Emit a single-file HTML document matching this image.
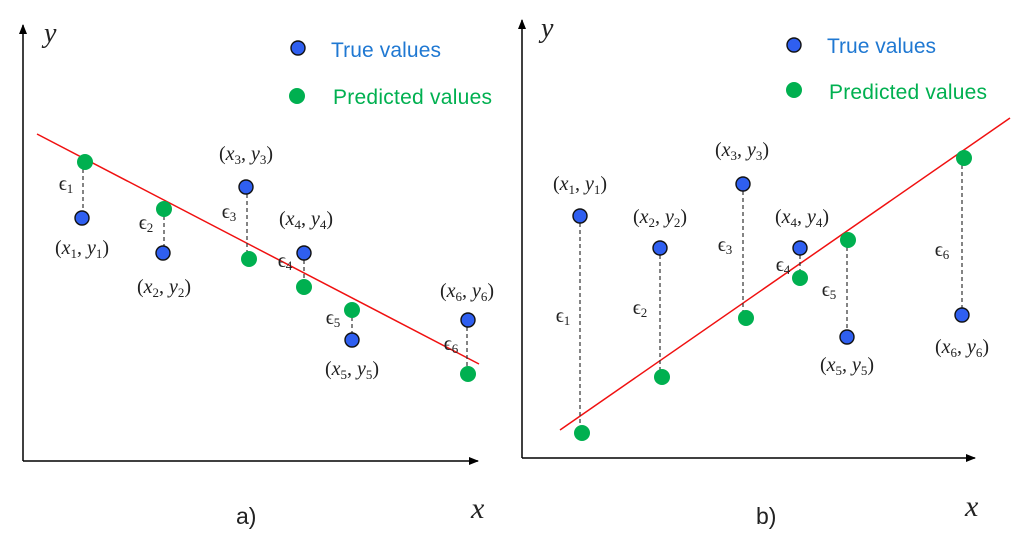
<!DOCTYPE html>
<html><head><meta charset="utf-8"><style>html,body{margin:0;padding:0;background:#fff}svg{display:block}</style></head>
<body>
<svg width="1023" height="544" viewBox="0 0 1023 544" xmlns="http://www.w3.org/2000/svg">
<defs>
<marker id="ar" markerWidth="10" markerHeight="8" refX="9" refY="4" orient="auto" markerUnits="userSpaceOnUse"><path d="M0,0 L10,4 L0,8 z" fill="#000"/></marker>
</defs>
<g font-family="Liberation Serif, serif" fill="#222">
<!-- Panel a -->
<line x1="23" y1="461" x2="23" y2="25" stroke="#000" stroke-width="1.5" marker-end="url(#ar)"/>
<line x1="23" y1="461" x2="478" y2="461" stroke="#000" stroke-width="1.5" marker-end="url(#ar)"/>
<text x="44" y="42" font-size="28" font-style="italic">y</text>
<text x="471" y="518" font-size="30" font-style="italic">x</text>
<text x="236" y="524" font-size="23" font-family="Liberation Sans, sans-serif">a)</text>
<line x1="37" y1="134" x2="479" y2="364" stroke="#f01010" stroke-width="1.5"/>
<g stroke="#333" stroke-width="1.2" stroke-dasharray="4,3">
<line x1="83" y1="162" x2="83" y2="218"/><line x1="164" y1="209" x2="164" y2="253"/>
<line x1="247" y1="187" x2="247" y2="259"/><line x1="304" y1="253" x2="304" y2="287"/>
<line x1="352" y1="310" x2="352" y2="340"/><line x1="467" y1="320" x2="467" y2="374"/>
</g>
<g fill="#2f5ff0" stroke="#111" stroke-width="1.4">
<circle cx="82" cy="218" r="7"/><circle cx="163" cy="253" r="7"/><circle cx="246" cy="187" r="7"/>
<circle cx="304" cy="253" r="7"/><circle cx="352" cy="340" r="7"/><circle cx="468" cy="320" r="7"/>
<circle cx="298" cy="48" r="7"/>
</g>
<g fill="#00b050">
<circle cx="85" cy="162" r="8"/><circle cx="164" cy="209" r="8"/><circle cx="249" cy="259" r="8"/>
<circle cx="304" cy="287" r="8"/><circle cx="352" cy="310" r="8"/><circle cx="468" cy="374" r="8"/>
<circle cx="297" cy="96" r="8"/>
</g>
<g font-size="20" text-anchor="middle">
<text x="82" y="254">(<tspan font-style="italic">x</tspan><tspan font-size="13" dy="4">1</tspan><tspan dy="-4">, </tspan><tspan font-style="italic">y</tspan><tspan font-size="13" dy="4">1</tspan><tspan dy="-4">)</tspan></text>
<text x="164" y="293">(<tspan font-style="italic">x</tspan><tspan font-size="13" dy="4">2</tspan><tspan dy="-4">, </tspan><tspan font-style="italic">y</tspan><tspan font-size="13" dy="4">2</tspan><tspan dy="-4">)</tspan></text>
<text x="246" y="160">(<tspan font-style="italic">x</tspan><tspan font-size="13" dy="4">3</tspan><tspan dy="-4">, </tspan><tspan font-style="italic">y</tspan><tspan font-size="13" dy="4">3</tspan><tspan dy="-4">)</tspan></text>
<text x="306" y="225">(<tspan font-style="italic">x</tspan><tspan font-size="13" dy="4">4</tspan><tspan dy="-4">, </tspan><tspan font-style="italic">y</tspan><tspan font-size="13" dy="4">4</tspan><tspan dy="-4">)</tspan></text>
<text x="352" y="375">(<tspan font-style="italic">x</tspan><tspan font-size="13" dy="4">5</tspan><tspan dy="-4">, </tspan><tspan font-style="italic">y</tspan><tspan font-size="13" dy="4">5</tspan><tspan dy="-4">)</tspan></text>
<text x="467" y="297">(<tspan font-style="italic">x</tspan><tspan font-size="13" dy="4">6</tspan><tspan dy="-4">, </tspan><tspan font-style="italic">y</tspan><tspan font-size="13" dy="4">6</tspan><tspan dy="-4">)</tspan></text>
<text x="66" y="190">ϵ<tspan font-size="13" dy="3">1</tspan></text>
<text x="146" y="229">ϵ<tspan font-size="13" dy="3">2</tspan></text>
<text x="229" y="218">ϵ<tspan font-size="13" dy="3">3</tspan></text>
<text x="285" y="267">ϵ<tspan font-size="13" dy="3">4</tspan></text>
<text x="333" y="324">ϵ<tspan font-size="13" dy="3">5</tspan></text>
<text x="451" y="350">ϵ<tspan font-size="13" dy="3">6</tspan></text>
</g>
<g font-family="Liberation Sans, sans-serif" font-size="21">
<text x="331" y="57" fill="#1f78d2" textLength="110">True values</text>
<text x="333" y="104" fill="#00b050" textLength="159">Predicted values</text>
</g>

<!-- Panel b -->
<line x1="522" y1="458" x2="522" y2="20" stroke="#000" stroke-width="1.5" marker-end="url(#ar)"/>
<line x1="522" y1="458" x2="975" y2="458" stroke="#000" stroke-width="1.5" marker-end="url(#ar)"/>
<text x="541" y="37" font-size="28" font-style="italic">y</text>
<text x="965" y="516" font-size="30" font-style="italic">x</text>
<text x="756" y="524" font-size="23" font-family="Liberation Sans, sans-serif">b)</text>
<line x1="560" y1="430" x2="1010" y2="118" stroke="#f01010" stroke-width="1.5"/>
<g stroke="#333" stroke-width="1.2" stroke-dasharray="4,3">
<line x1="580" y1="216" x2="580" y2="433"/><line x1="660" y1="248" x2="660" y2="377"/>
<line x1="743" y1="184" x2="743" y2="318"/><line x1="800" y1="248" x2="800" y2="278"/>
<line x1="847" y1="240" x2="847" y2="337"/><line x1="962" y1="158" x2="962" y2="315"/>
</g>
<g fill="#2f5ff0" stroke="#111" stroke-width="1.4">
<circle cx="580" cy="216" r="7"/><circle cx="660" cy="248" r="7"/><circle cx="743" cy="184" r="7"/>
<circle cx="800" cy="248" r="7"/><circle cx="847" cy="337" r="7"/><circle cx="962" cy="315" r="7"/>
<circle cx="794" cy="45" r="7"/>
</g>
<g fill="#00b050">
<circle cx="582" cy="433" r="8"/><circle cx="662" cy="377" r="8"/><circle cx="746" cy="318" r="8"/>
<circle cx="800" cy="278" r="8"/><circle cx="848" cy="240" r="8"/><circle cx="964" cy="158" r="8"/>
<circle cx="794" cy="90" r="8"/>
</g>
<g font-size="20" text-anchor="middle">
<text x="580" y="190">(<tspan font-style="italic">x</tspan><tspan font-size="13" dy="4">1</tspan><tspan dy="-4">, </tspan><tspan font-style="italic">y</tspan><tspan font-size="13" dy="4">1</tspan><tspan dy="-4">)</tspan></text>
<text x="660" y="223">(<tspan font-style="italic">x</tspan><tspan font-size="13" dy="4">2</tspan><tspan dy="-4">, </tspan><tspan font-style="italic">y</tspan><tspan font-size="13" dy="4">2</tspan><tspan dy="-4">)</tspan></text>
<text x="742" y="156">(<tspan font-style="italic">x</tspan><tspan font-size="13" dy="4">3</tspan><tspan dy="-4">, </tspan><tspan font-style="italic">y</tspan><tspan font-size="13" dy="4">3</tspan><tspan dy="-4">)</tspan></text>
<text x="802" y="223">(<tspan font-style="italic">x</tspan><tspan font-size="13" dy="4">4</tspan><tspan dy="-4">, </tspan><tspan font-style="italic">y</tspan><tspan font-size="13" dy="4">4</tspan><tspan dy="-4">)</tspan></text>
<text x="847" y="371">(<tspan font-style="italic">x</tspan><tspan font-size="13" dy="4">5</tspan><tspan dy="-4">, </tspan><tspan font-style="italic">y</tspan><tspan font-size="13" dy="4">5</tspan><tspan dy="-4">)</tspan></text>
<text x="962" y="353">(<tspan font-style="italic">x</tspan><tspan font-size="13" dy="4">6</tspan><tspan dy="-4">, </tspan><tspan font-style="italic">y</tspan><tspan font-size="13" dy="4">6</tspan><tspan dy="-4">)</tspan></text>
<text x="563" y="322">ϵ<tspan font-size="13" dy="3">1</tspan></text>
<text x="640" y="314">ϵ<tspan font-size="13" dy="3">2</tspan></text>
<text x="725" y="251">ϵ<tspan font-size="13" dy="3">3</tspan></text>
<text x="783" y="271">ϵ<tspan font-size="13" dy="3">4</tspan></text>
<text x="829" y="296">ϵ<tspan font-size="13" dy="3">5</tspan></text>
<text x="942" y="256">ϵ<tspan font-size="13" dy="3">6</tspan></text>
</g>
<g font-family="Liberation Sans, sans-serif" font-size="21">
<text x="827" y="53" fill="#1f78d2" textLength="109">True values</text>
<text x="829" y="99" fill="#00b050" textLength="158">Predicted values</text>
</g>
</g>
</svg>
</body></html>
